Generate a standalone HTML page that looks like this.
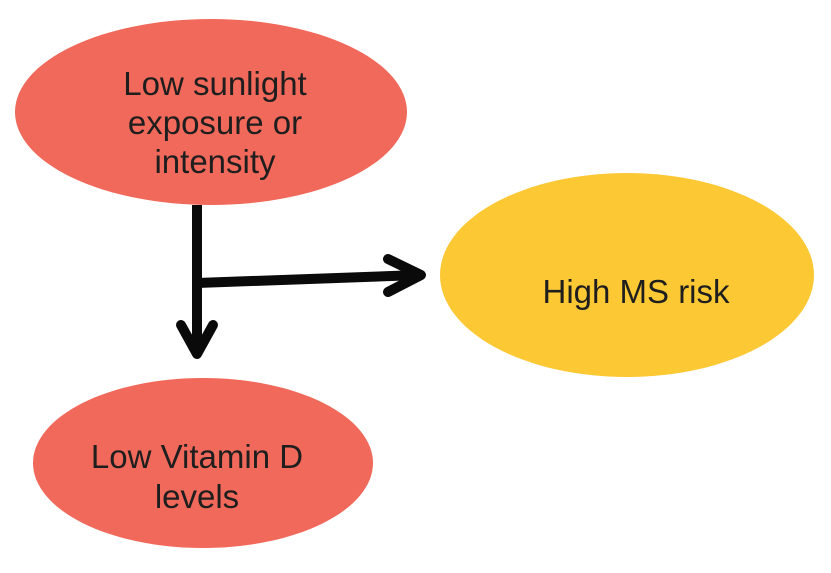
<!DOCTYPE html>
<html>
<head>
<meta charset="utf-8">
<style>
  html, body { margin: 0; padding: 0; background: #ffffff; }
  body { width: 831px; height: 573px; overflow: hidden; }
  svg { display: block; }
  text { font-family: "Liberation Sans", Arial, sans-serif; fill: #1e1e1e; }
</style>
</head>
<body>
<svg width="831" height="573" viewBox="0 0 831 573" xmlns="http://www.w3.org/2000/svg">
  <rect width="831" height="573" fill="#ffffff"/>

  <!-- Top ellipse -->
  <ellipse cx="211" cy="112" rx="196" ry="93" fill="#f0695a"/>
  <text x="215" y="95" font-size="33" text-anchor="middle">Low sunlight</text>
  <text x="215" y="134" font-size="33" text-anchor="middle">exposure or</text>
  <text x="215" y="173" font-size="33" text-anchor="middle">intensity</text>

  <!-- Yellow ellipse -->
  <ellipse cx="627" cy="275" rx="187" ry="102" fill="#fcc834"/>
  <text x="636" y="303" font-size="33" text-anchor="middle">High MS risk</text>

  <!-- Bottom ellipse -->
  <ellipse cx="203" cy="463" rx="170" ry="85" fill="#f0695a"/>
  <text x="197" y="468" font-size="33" text-anchor="middle">Low Vitamin D</text>
  <text x="197" y="508" font-size="33" text-anchor="middle">levels</text>

  <!-- Connectors -->
  <g stroke="#0a0a0a" stroke-width="10" fill="none" stroke-linecap="round" stroke-linejoin="round">
    <line x1="197" y1="205" x2="197" y2="354" stroke-linecap="butt"/>
    <line x1="197" y1="283" x2="419" y2="275"/>
    <polyline points="388,259 421,275 388,292"/>
    <polyline points="181,325 197,354 213,325"/>
  </g>
</svg>
</body>
</html>
